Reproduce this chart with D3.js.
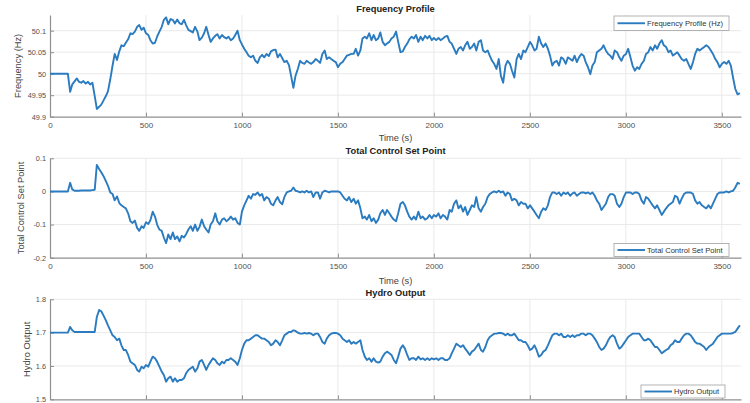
<!DOCTYPE html>
<html>
<head>
<meta charset="utf-8">
<script src="https://cdn.jsdelivr.net/npm/d3@7"></script>
<style>
  html, body { margin: 0; padding: 0; background: #fff; }
  svg { display: block; font-family: "Liberation Sans", Arial, Helvetica, sans-serif; }
</style>
</head>
<body>
<svg id="chart" width="750" height="403"></svg>
<script>
// Sample times (s) shared by the three recorded signals
const timeSeconds = [
  0,12,23,35,47,58,70,81,93,105,
  116,128,140,151,163,174,186,198,209,221,
  233,244,256,267,279,291,302,314,326,337,
  349,361,372,384,395,407,419,430,442,454,
  465,477,488,500,512,523,535,547,558,570,
  582,593,605,616,628,640,651,663,675,686,
  698,709,721,733,744,756,768,779,791,803,
  814,826,837,849,861,872,884,896,907,919,
  930,942,954,965,977,989,1000,1012,1024,1035,
  1047,1058,1070,1082,1093,1105,1116,1128,1140,1151,
  1163,1175,1186,1198,1210,1221,1233,1245,1256,1268,
  1279,1291,1303,1314,1326,1337,1349,1361,1372,1384,
  1396,1407,1419,1431,1442,1454,1465,1477,1489,1500,
  1512,1524,1535,1547,1558,1570,1582,1593,1605,1617,
  1628,1640,1651,1663,1675,1686,1698,1710,1721,1733,
  1745,1756,1768,1779,1791,1803,1814,1826,1838,1849,
  1861,1872,1884,1896,1907,1919,1931,1942,1954,1966,
  1977,1989,2000,2012,2024,2035,2047,2058,2070,2082,
  2093,2105,2117,2128,2140,2152,2163,2175,2187,2198,
  2210,2221,2233,2245,2256,2268,2280,2291,2303,2314,
  2326,2338,2349,2361,2373,2384,2396,2407,2419,2431,
  2442,2454,2466,2477,2489,2501,2512,2524,2535,2547,
  2559,2570,2582,2594,2605,2617,2628,2640,2652,2663,
  2675,2687,2698,2710,2722,2733,2745,2756,2768,2780,
  2791,2803,2815,2826,2838,2849,2861,2873,2884,2896,
  2908,2919,2931,2942,2954,2966,2977,2989,3001,3012,
  3024,3035,3047,3059,3070,3082,3094,3105,3117,3128,
  3140,3152,3163,3175,3187,3198,3210,3222,3233,3245,
  3256,3268,3280,3291,3303,3315,3326,3338,3350,3361,
  3373,3384,3396,3408,3419,3431,3443,3454,3466,3477,
  3489,3501,3512,3524,3536,3547,3559,3570,3582,3594
];

// Grid frequency (Hz)
const frequencyHz = [
  50.000,50.000,50.000,50.000,50.000,50.000,50.000,50.000,50.000,49.958,
  49.975,49.982,49.989,49.981,49.979,49.983,49.977,49.981,49.975,49.979,
  49.948,49.918,49.923,49.928,49.938,49.948,49.959,49.987,50.019,50.046,
  50.032,50.052,50.066,50.064,50.072,50.080,50.094,50.092,50.098,50.109,
  50.113,50.102,50.107,50.094,50.090,50.078,50.070,50.072,50.086,50.098,
  50.109,50.125,50.131,50.115,50.127,50.125,50.117,50.126,50.117,50.115,
  50.125,50.113,50.102,50.099,50.096,50.109,50.098,50.078,50.084,50.094,
  50.109,50.090,50.074,50.082,50.088,50.092,50.082,50.090,50.085,50.082,
  50.086,50.078,50.082,50.090,50.100,50.078,50.068,50.058,50.050,50.042,
  50.038,50.042,50.030,50.025,50.038,50.044,50.038,50.046,50.041,50.052,
  50.055,50.056,50.038,50.046,50.036,50.027,50.030,50.020,49.995,49.967,
  49.995,50.011,50.030,50.025,50.023,50.030,50.026,50.023,50.027,50.034,
  50.030,50.025,50.046,50.054,50.034,50.038,50.034,50.030,50.027,50.015,
  50.023,50.027,50.034,50.042,50.044,50.046,50.046,50.058,50.042,50.054,
  50.082,50.086,50.082,50.094,50.078,50.090,50.078,50.082,50.096,50.074,
  50.066,50.070,50.074,50.082,50.086,50.098,50.074,50.050,50.052,50.062,
  50.070,50.080,50.086,50.082,50.090,50.074,50.086,50.078,50.088,50.082,
  50.088,50.078,50.083,50.078,50.083,50.078,50.082,50.086,50.088,50.074,
  50.070,50.058,50.046,50.058,50.062,50.054,50.066,50.074,50.058,50.062,
  50.070,50.054,50.074,50.078,50.054,50.050,50.054,50.042,50.030,50.023,
  50.011,50.034,49.995,49.979,50.019,50.030,50.023,50.007,49.991,50.034,
  50.046,50.034,50.054,50.050,50.062,50.074,50.066,50.054,50.058,50.086,
  50.070,50.062,50.070,50.058,50.042,50.019,50.027,50.030,50.019,50.038,
  50.034,50.023,50.038,50.034,50.030,50.042,50.027,50.038,50.046,50.042,
  50.027,50.015,49.999,50.019,50.027,50.050,50.054,50.058,50.066,50.054,
  50.046,50.042,50.034,50.054,50.050,50.038,50.030,50.042,50.046,50.058,
  50.038,50.019,50.007,50.015,50.011,50.023,50.030,50.046,50.050,50.062,
  50.054,50.066,50.058,50.070,50.078,50.066,50.062,50.050,50.054,50.042,
  50.046,50.050,50.042,50.034,50.030,50.034,50.023,50.011,50.027,50.046,
  50.058,50.054,50.058,50.062,50.066,50.062,50.054,50.046,50.034,50.027,
  50.015,50.023,50.027,50.023,50.030,50.019,49.990,49.965,49.952,49.955
];

// Total control set point (p.u.)
const controlSetPoint = [
  0,0,0,0,0,0,0,0,0,0.026,
  0.006,0.002,0.002,0.002,0.003,0.003,0.003,0.003,0.003,0.004,
  0.005,0.080,0.068,0.058,0.046,0.031,0.017,-0.003,-0.008,-0.027,
  -0.015,-0.035,-0.042,-0.047,-0.051,-0.066,-0.090,-0.095,-0.088,-0.110,
  -0.119,-0.105,-0.110,-0.093,-0.098,-0.087,-0.061,-0.076,-0.100,-0.115,
  -0.119,-0.139,-0.156,-0.130,-0.144,-0.124,-0.144,-0.136,-0.151,-0.134,
  -0.139,-0.129,-0.115,-0.105,-0.119,-0.100,-0.119,-0.107,-0.085,-0.105,
  -0.115,-0.124,-0.100,-0.090,-0.066,-0.090,-0.100,-0.085,-0.081,-0.090,
  -0.085,-0.076,-0.085,-0.081,-0.095,-0.100,-0.061,-0.042,-0.027,-0.013,
  -0.022,-0.008,-0.010,-0.003,-0.013,-0.008,-0.027,-0.017,-0.022,-0.037,
  -0.042,-0.027,-0.017,-0.032,-0.039,-0.017,-0.003,0.000,0.002,0.012,
  0.002,0.000,-0.003,0.000,-0.003,0.002,-0.003,0.000,-0.017,-0.003,
  -0.003,-0.022,-0.003,0.002,0.000,-0.003,0.000,0.000,0.000,0.000,
  -0.003,-0.013,-0.022,-0.027,-0.017,-0.032,-0.022,-0.037,-0.027,-0.051,
  -0.081,-0.076,-0.085,-0.071,-0.090,-0.081,-0.095,-0.085,-0.066,-0.056,
  -0.071,-0.056,-0.066,-0.076,-0.085,-0.090,-0.066,-0.037,-0.032,-0.042,
  -0.061,-0.076,-0.085,-0.076,-0.085,-0.061,-0.081,-0.076,-0.085,-0.081,
  -0.071,-0.081,-0.071,-0.076,-0.066,-0.081,-0.071,-0.076,-0.085,-0.056,
  -0.061,-0.037,-0.027,-0.051,-0.042,-0.061,-0.047,-0.071,-0.056,-0.042,
  -0.047,-0.017,-0.051,-0.061,-0.047,-0.037,-0.017,-0.008,-0.003,0.000,
  -0.003,0.002,-0.003,0.000,-0.013,-0.003,-0.008,-0.027,-0.022,-0.027,
  -0.042,-0.032,-0.037,-0.037,-0.051,-0.042,-0.051,-0.061,-0.071,-0.081,
  -0.061,-0.051,-0.056,-0.042,-0.017,-0.003,-0.003,-0.008,-0.003,-0.013,
  -0.003,-0.008,-0.003,-0.013,-0.006,-0.003,-0.013,-0.008,-0.003,-0.003,
  -0.006,-0.003,-0.008,-0.003,-0.013,-0.027,-0.037,-0.056,-0.047,-0.037,
  -0.017,-0.008,-0.008,-0.013,-0.037,-0.047,-0.037,-0.017,-0.003,-0.003,
  -0.003,-0.008,-0.003,-0.003,-0.008,-0.027,-0.037,-0.017,-0.022,-0.032,
  -0.042,-0.051,-0.042,-0.056,-0.071,-0.061,-0.051,-0.042,-0.037,-0.032,
  -0.013,-0.017,-0.037,-0.022,-0.008,-0.003,-0.003,-0.003,-0.008,-0.027,
  -0.037,-0.032,-0.042,-0.047,-0.051,-0.042,-0.051,-0.037,-0.022,-0.008,
  -0.003,-0.003,-0.003,0.000,-0.003,0.000,0.002,0.012,0.026,0.023
];

// Hydro unit output (p.u.)
const hydroOutput = [
  1.700,1.700,1.700,1.700,1.700,1.700,1.700,1.700,1.700,1.717,
  1.707,1.702,1.702,1.702,1.702,1.702,1.702,1.702,1.702,1.702,
  1.702,1.747,1.768,1.764,1.751,1.737,1.722,1.707,1.692,1.687,
  1.677,1.682,1.662,1.648,1.648,1.633,1.613,1.608,1.603,1.588,
  1.583,1.598,1.593,1.603,1.598,1.613,1.628,1.623,1.613,1.598,
  1.583,1.573,1.553,1.563,1.568,1.553,1.563,1.553,1.558,1.558,
  1.563,1.578,1.588,1.593,1.598,1.583,1.593,1.613,1.618,1.603,
  1.588,1.603,1.613,1.623,1.618,1.608,1.603,1.613,1.608,1.618,
  1.618,1.623,1.618,1.613,1.603,1.623,1.648,1.667,1.677,1.677,
  1.682,1.687,1.692,1.692,1.687,1.682,1.682,1.677,1.672,1.662,
  1.667,1.677,1.672,1.662,1.677,1.692,1.697,1.702,1.702,1.707,
  1.705,1.700,1.697,1.697,1.699,1.697,1.699,1.697,1.692,1.697,
  1.697,1.687,1.672,1.667,1.682,1.692,1.697,1.699,1.699,1.697,
  1.692,1.682,1.677,1.672,1.677,1.667,1.672,1.667,1.672,1.677,
  1.648,1.628,1.618,1.623,1.613,1.623,1.613,1.610,1.613,1.628,
  1.638,1.643,1.638,1.633,1.618,1.608,1.628,1.652,1.662,1.652,
  1.633,1.618,1.623,1.623,1.618,1.628,1.620,1.623,1.618,1.623,
  1.618,1.623,1.620,1.623,1.618,1.623,1.623,1.618,1.618,1.623,
  1.638,1.652,1.667,1.662,1.657,1.662,1.652,1.643,1.633,1.643,
  1.648,1.657,1.667,1.648,1.643,1.657,1.677,1.687,1.692,1.697,
  1.697,1.699,1.699,1.697,1.692,1.697,1.692,1.692,1.697,1.687,
  1.677,1.677,1.672,1.672,1.662,1.648,1.652,1.662,1.648,1.628,
  1.633,1.643,1.648,1.662,1.677,1.692,1.697,1.697,1.692,1.697,
  1.687,1.687,1.692,1.687,1.692,1.687,1.692,1.692,1.697,1.697,
  1.692,1.697,1.697,1.692,1.682,1.672,1.657,1.648,1.652,1.662,
  1.677,1.687,1.692,1.687,1.667,1.652,1.657,1.667,1.677,1.687,
  1.692,1.697,1.697,1.697,1.697,1.687,1.677,1.677,1.682,1.677,
  1.667,1.657,1.657,1.648,1.638,1.643,1.648,1.652,1.662,1.667,
  1.677,1.672,1.672,1.682,1.692,1.697,1.697,1.692,1.682,1.672,
  1.667,1.667,1.662,1.657,1.648,1.657,1.662,1.667,1.677,1.687,
  1.692,1.697,1.697,1.697,1.697,1.697,1.699,1.702,1.712,1.722
];

// Axis ticks
const timeTicks = [0, 500, 1000, 1500, 2000, 2500, 3000, 3500];
const frequencyTicks = [49.9, 49.95, 50, 50.05, 50.1];
const controlTicks = [-0.2, -0.1, 0, 0.1];
const hydroTicks = [1.5, 1.6, 1.7, 1.8];

// Text
const panelTitles = ["Frequency Profile", "Total Control Set Point", "Hydro Output"];
const yAxisLabels = ["Frequency (Hz)", "Total Control Set Point", "Hydro Output"];
const legendLabels = ["Frequency Profile (Hz)", "Total Control Set Point", "Hydro Output"];
const xAxisLabel = "Time (s)";

// ---- layout -------------------------------------------------------------
const LINE_COLOR = "#2a7bbf";
const GRID_COLOR = "#e9e9e9";
const AXIS_COLOR = "#8f8f8f";
const TICK_TEXT = "#505050";

const plotLeft = 50, plotRight = 741;

const panels = [
  { values: frequencyHz, ticks: frequencyTicks, yDomain: [49.9, 50.1365],
    top: 15, bottom: 116.7, titleY: 11.5, xLabelY: 140.5, yLabelX: 18,
    showXTickLabels: true, showXLabel: true,
    legend: { x: 614, y: 16, w: 115, h: 14.5 } },
  { values: controlSetPoint, ticks: controlTicks, yDomain: [-0.2, 0.1],
    top: 158.3, bottom: 257.7, titleY: 154, xLabelY: 283.5, yLabelX: 21,
    showXTickLabels: true, showXLabel: true,
    legend: { x: 614, y: 243.5, w: 115, h: 13 } },
  { values: hydroOutput, ticks: hydroTicks, yDomain: [1.5, 1.8],
    top: 299.3, bottom: 399.3, titleY: 296, xLabelY: null, yLabelX: 27,
    showXTickLabels: false, showXLabel: false,
    legend: { x: 641, y: 385, w: 84, h: 13 } }
];

const svg = d3.select("#chart");
const x = d3.scaleLinear().domain([0, 3600]).range([plotLeft, plotRight]);
const fmt = d => String(+d.toFixed(3));

panels.forEach((p, i) => {
  const y = d3.scaleLinear().domain(p.yDomain).range([p.bottom, p.top]);
  const g = svg.append("g");

  // grid
  g.append("g").selectAll("line").data(timeTicks.filter(t => t > 0)).join("line")
    .attr("x1", d => x(d)).attr("x2", d => x(d))
    .attr("y1", p.top).attr("y2", p.bottom)
    .attr("stroke", GRID_COLOR).attr("stroke-width", 1);
  g.append("g").selectAll("line").data(p.ticks.filter(t => y(t) < p.bottom - 1)).join("line")
    .attr("x1", plotLeft).attr("x2", plotRight)
    .attr("y1", d => y(d)).attr("y2", d => y(d))
    .attr("stroke", GRID_COLOR).attr("stroke-width", 1);

  // x axis
  const xAxis = d3.axisBottom(x).tickValues(timeTicks).tickSizeInner(-4).tickSizeOuter(0)
    .tickPadding(6).tickFormat(p.showXTickLabels ? fmt : () => "");
  const xa = g.append("g").attr("transform", `translate(0,${p.bottom})`).call(xAxis);
  xa.select(".domain").attr("stroke", AXIS_COLOR).attr("stroke-width", 1.2);
  xa.selectAll(".tick line").attr("stroke", AXIS_COLOR);
  xa.selectAll(".tick text").attr("fill", TICK_TEXT)
    .attr("font-size", 8).attr("font-family", "Liberation Sans, Arial, sans-serif");

  // y axis
  const yAxis = d3.axisLeft(y).tickValues(p.ticks).tickSizeInner(-4).tickSizeOuter(0)
    .tickPadding(4).tickFormat(fmt);
  const ya = g.append("g").attr("transform", `translate(${plotLeft},0)`).call(yAxis);
  ya.select(".domain").attr("stroke", AXIS_COLOR).attr("stroke-width", 1.2);
  ya.selectAll(".tick line").attr("stroke", AXIS_COLOR);
  ya.selectAll(".tick text").attr("fill", TICK_TEXT)
    .attr("font-size", 7.3).attr("font-family", "Liberation Sans, Arial, sans-serif");

  // signal
  const line = d3.line().x((d, k) => x(timeSeconds[k])).y(d => y(d));
  g.append("path").datum(p.values)
    .attr("d", line).attr("fill", "none")
    .attr("stroke", LINE_COLOR).attr("stroke-width", 1.9)
    .attr("stroke-linejoin", "round");

  // title
  g.append("text").attr("x", (plotLeft + plotRight) / 2).attr("y", p.titleY)
    .attr("text-anchor", "middle").attr("font-size", 9.3).attr("font-weight", "bold")
    .attr("fill", "#222").text(panelTitles[i]);

  // x label
  if (p.showXLabel) {
    g.append("text").attr("x", (plotLeft + plotRight) / 2).attr("y", p.xLabelY)
      .attr("text-anchor", "middle").attr("font-size", 9.3).attr("fill", "#444")
      .text(xAxisLabel);
  }

  // y label
  g.append("text")
    .attr("transform", `translate(${p.yLabelX},${(p.top + p.bottom) / 2}) rotate(-90)`)
    .attr("dy", "0.35em").attr("text-anchor", "middle")
    .attr("font-size", 9.3).attr("fill", "#444").text(yAxisLabels[i]);

  // legend
  const L = p.legend;
  const lg = g.append("g").attr("transform", `translate(${L.x},${L.y})`);
  lg.append("rect").attr("width", L.w).attr("height", L.h)
    .attr("fill", "#fff").attr("stroke", "#a0a0a0").attr("stroke-width", 0.8);
  lg.append("line").attr("x1", 3.5).attr("x2", 31).attr("y1", L.h / 2).attr("y2", L.h / 2)
    .attr("stroke", LINE_COLOR).attr("stroke-width", 1.9);
  lg.append("text").attr("x", 33).attr("y", L.h / 2).attr("dy", "0.35em")
    .attr("font-size", 7.6).attr("fill", "#333").text(legendLabels[i]);
});
</script>
</body>
</html>
